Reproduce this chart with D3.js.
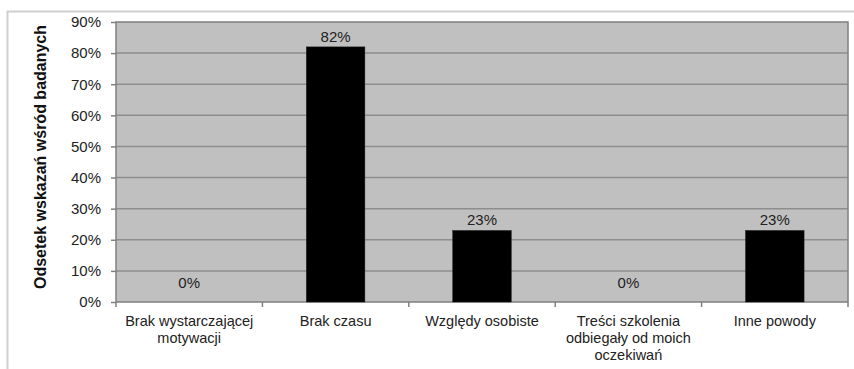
<!DOCTYPE html>
<html>
<head>
<meta charset="utf-8">
<script src="https://cdn.jsdelivr.net/npm/d3@7"></script>
<style>
  html, body { margin: 0; padding: 0; background: #fff; }
  svg { display: block; }
</style>
</head>
<body>
<svg id="chart" width="854" height="369"></svg>
<script>
// Reasons for not completing the training (share of respondents)
const categories = [
  ["Brak wystarczającej", "motywacji"],
  ["Brak czasu"],
  ["Względy osobiste"],
  ["Treści szkolenia", "odbiegały od moich", "oczekiwań"],
  ["Inne powody"]
];
const values = [0, 82, 23, 0, 23];
const yTicks = [0, 10, 20, 30, 40, 50, 60, 70, 80, 90];
const yTitle = "Odsetek wskazań wśród badanych";

const svg = d3.select("#chart");
const font = "'Liberation Sans', Arial, sans-serif";

const plot = { left: 116, top: 22, right: 848, bottom: 302 };

// outer chart frame
svg.append("rect")
  .attr("x", 7.5).attr("y", 11.5)
  .attr("width", 860).attr("height", 400)
  .attr("fill", "none")
  .attr("stroke", "#cfcfcf")
  .attr("stroke-width", 2);

const x = d3.scaleBand()
  .domain(d3.range(categories.length))
  .range([plot.left, plot.right]);

const y = d3.scaleLinear()
  .domain([0, 90])
  .range([plot.bottom, plot.top]);

// plot area background
svg.append("rect")
  .attr("x", plot.left).attr("y", plot.top)
  .attr("width", plot.right - plot.left)
  .attr("height", plot.bottom - plot.top)
  .attr("fill", "#c0c0c0");

// horizontal gridlines
svg.append("g")
  .selectAll("line")
  .data(yTicks.filter(t => t > 0 && t < 90))
  .join("line")
  .attr("x1", plot.left).attr("x2", plot.right)
  .attr("y1", d => y(d)).attr("y2", d => y(d))
  .attr("stroke", "#8e8e8e")
  .attr("stroke-width", 1.5);

// plot area border
svg.append("rect")
  .attr("x", plot.left).attr("y", plot.top)
  .attr("width", plot.right - plot.left)
  .attr("height", plot.bottom - plot.top)
  .attr("fill", "none")
  .attr("stroke", "#808080")
  .attr("stroke-width", 1.5);

// bars
const barW = x.bandwidth() * 0.4;
svg.append("g")
  .selectAll("rect")
  .data(values)
  .join("rect")
  .attr("x", (d, i) => x(i) + (x.bandwidth() - barW) / 2)
  .attr("y", d => y(d))
  .attr("width", barW)
  .attr("height", d => y(0) - y(d))
  .attr("fill", "#000")
  .attr("stroke", "#222")
  .attr("stroke-width", 0.5);

// value labels above bars (kept clear of the axis line for zero values)
svg.append("g")
  .selectAll("text")
  .data(values)
  .join("text")
  .attr("x", (d, i) => x(i) + x.bandwidth() / 2)
  .attr("y", d => Math.min(y(d), y(0) - 9) - 5)
  .attr("text-anchor", "middle")
  .attr("font-family", font)
  .attr("font-size", 15)
  .attr("fill", "#222")
  .text(d => d + "%");

// y axis
const yAxis = d3.axisLeft(y)
  .tickValues(yTicks)
  .tickFormat(d => d + "%")
  .tickSize(5)
  .tickPadding(10);
const gy = svg.append("g")
  .attr("transform", `translate(${plot.left},0)`)
  .call(yAxis);
gy.select(".domain").remove();
gy.selectAll(".tick line").attr("stroke", "#808080").attr("stroke-width", 1.5);
gy.selectAll(".tick text")
  .attr("font-family", font)
  .attr("font-size", 15)
  .attr("fill", "#222");

// x axis: ticks at band boundaries
svg.append("g")
  .selectAll("line")
  .data(d3.range(categories.length + 1))
  .join("line")
  .attr("x1", i => i < categories.length ? x(i) : plot.right)
  .attr("x2", i => i < categories.length ? x(i) : plot.right)
  .attr("y1", plot.bottom)
  .attr("y2", plot.bottom + 5)
  .attr("stroke", "#808080")
  .attr("stroke-width", 1.5);

// category labels
const catG = svg.append("g");
categories.forEach((lines, i) => {
  const t = catG.append("text")
    .attr("x", x(i) + x.bandwidth() / 2)
    .attr("y", 326)
    .attr("text-anchor", "middle")
    .attr("font-family", font)
    .attr("font-size", 14.5)
    .attr("fill", "#222");
  lines.forEach((ln, k) => {
    t.append("tspan")
      .attr("x", x(i) + x.bandwidth() / 2)
      .attr("dy", k === 0 ? 0 : 17)
      .text(ln);
  });
});

// y axis title
svg.append("text")
  .attr("transform", `translate(46,${(plot.top + plot.bottom) / 2 - 5}) rotate(-90)`)
  .attr("text-anchor", "middle")
  .attr("font-family", font)
  .attr("font-size", 16)
  .attr("font-weight", "bold")
  .attr("fill", "#111")
  .text(yTitle);
</script>
</body>
</html>
